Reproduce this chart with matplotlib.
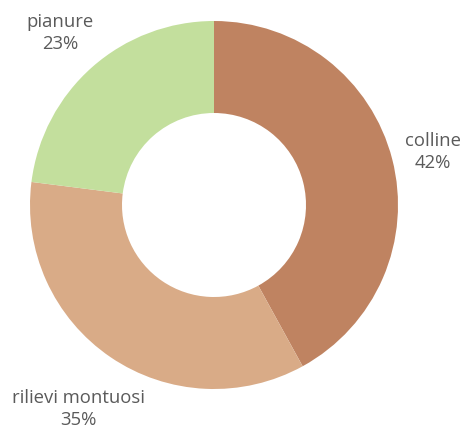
import matplotlib.pyplot as plt

# --- Dati ---
categorie = ['colline', 'rilievi montuosi', 'pianure']
valori = [42, 35, 23]
colori = ['#BF8361', '#D9AB87', '#C3DF9D']

# posizioni delle etichette (pixel, dall'alto a sinistra)
pos_etichette = [(433, 152), (78, 409), (60, 33)]

W, H = 468, 429
CX, CY, R = 214, 205, 184

fig = plt.figure(figsize=(W / 100, H / 100), dpi=100)
ax = fig.add_axes([0, 0, 1, 1])
ax.pie(valori, colors=colori, startangle=90, counterclock=False,
       radius=1, wedgeprops=dict(width=0.5, edgecolor='none'))
ax.set_xlim(-CX / R, (W - CX) / R)
ax.set_ylim(-(H - CY) / R, CY / R)
ax.set_aspect('auto')
ax.axis('off')

for nome, v, (px, py) in zip(categorie, valori, pos_etichette):
    fig.text(px / W, 1 - py / H, f'{nome}\n{v}%', ha='center', va='center',
             fontsize=13.3, color='#5a5a5a', family='Open Sans', linespacing=1.3)

fig.savefig('out.png', dpi=100)
